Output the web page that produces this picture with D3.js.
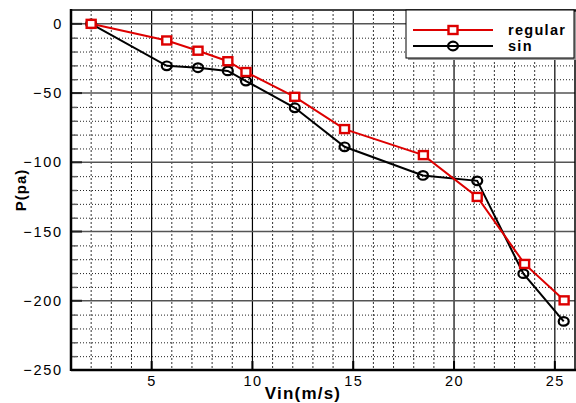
<!DOCTYPE html>
<html>
<head>
<meta charset="utf-8">
<script src="https://cdn.jsdelivr.net/npm/d3@7"></script>
<style>
  html, body { margin: 0; padding: 0; background: #fff; }
  svg { display: block; }
  text { font-family: "Liberation Sans", Arial, sans-serif; }
</style>
</head>
<body>
<svg id="chart" width="576" height="403"></svg>
<script>
// Inlet velocity (m/s) and pressure (Pa) for the two channel profiles
const vin = [2.0, 5.75, 7.3, 8.78, 9.68, 12.1, 14.57, 18.48, 21.15, 23.5, 25.46];
const vinSin = [2.0, 5.75, 7.3, 8.78, 9.68, 12.1, 14.57, 18.46, 21.15, 23.44, 25.44];
const regular = [0, -12, -19.4, -27, -34.8, -52.7, -76, -94.8, -125, -173.4, -199.7];
const sin = [0, -30.3, -31.7, -34, -41.3, -60.6, -88.8, -109.5, -113.4, -180.4, -214.9];
const xTicks = [5, 10, 15, 20, 25];
const yTicks = [0, -50, -100, -150, -200, -250];
const seriesNames = ["regular", "sin"];

const svg = d3.select("#chart");
const pLeft = 71, pRight = 575, pTop = 10, pBottom = 370;

const x = d3.scaleLinear().domain([1, 26]).range([pLeft, pRight]);
const y = d3.scaleLinear().domain([-250, 10]).range([pBottom, pTop]);

const minorX = d3.range(2, 26).filter(v => v % 5 !== 0);
const minorY = d3.range(-240, 10, 10).filter(v => v % 50 !== 0);

const grid = svg.append("g");

// minor grid (every 1 m/s and every 10 Pa), dotted
grid.append("g").selectAll("line").data(minorX)
  .join("line")
  .attr("x1", d => x(d)).attr("x2", d => x(d))
  .attr("y1", pTop).attr("y2", pBottom)
  .attr("stroke", "#333").attr("stroke-width", 1).attr("stroke-dasharray", "2,2");
grid.append("g").selectAll("line").data(minorY)
  .join("line")
  .attr("x1", pLeft).attr("x2", pRight)
  .attr("y1", d => y(d) + 0.5).attr("y2", d => y(d) + 0.5)
  .attr("stroke", "#222").attr("stroke-width", 1).attr("stroke-dasharray", "1,2");

// major grid
grid.append("g").selectAll("line").data(xTicks).join("line")
  .attr("x1", d => x(d)).attr("x2", d => x(d))
  .attr("y1", pTop).attr("y2", pBottom)
  .attr("stroke", "#000").attr("stroke-width", 1.2);
grid.append("g").selectAll("line").data(yTicks.filter(v => v > -250)).join("line")
  .attr("x1", pLeft).attr("x2", pRight)
  .attr("y1", d => y(d)).attr("y2", d => y(d))
  .attr("stroke", "#555").attr("stroke-width", 1.5);

// frame
svg.append("line").attr("x1", pLeft).attr("x2", 576).attr("y1", pTop).attr("y2", pTop)
  .attr("stroke", "#444").attr("stroke-width", 2);
svg.append("line").attr("x1", pRight).attr("x2", pRight).attr("y1", pTop).attr("y2", pBottom)
  .attr("stroke", "#000").attr("stroke-width", 1.5);

// axes: labels via d3 axes, ticks drawn inward below
const xAxis = d3.axisBottom(x).tickValues(xTicks).tickSize(0).tickPadding(6).tickFormat(d3.format("d"));
const gx = svg.append("g").attr("transform", `translate(0,${pBottom})`).call(xAxis);
gx.select(".domain").remove();
gx.selectAll("text").attr("font-size", 14.5).attr("letter-spacing", "1.5px").attr("fill", "#000")
  .attr("font-family", "Liberation Sans, Arial, sans-serif");

const yAxis = d3.axisLeft(y).tickValues(yTicks).tickSize(0).tickPadding(8).tickFormat(d3.format("d"));
const gy = svg.append("g").attr("transform", `translate(${pLeft},0)`).call(yAxis);
gy.select(".domain").remove();
gy.selectAll("text").attr("font-size", 14.5).attr("letter-spacing", "1.8px").attr("fill", "#000")
  .attr("font-family", "Liberation Sans, Arial, sans-serif");

// tick marks
svg.append("g").selectAll("line").data(xTicks).join("line")
  .attr("x1", d => x(d)).attr("x2", d => x(d))
  .attr("y1", pBottom).attr("y2", pBottom - 9)
  .attr("stroke", "#000").attr("stroke-width", 2);
svg.append("g").selectAll("line").data(yTicks).join("line")
  .attr("x1", pLeft).attr("x2", pLeft + 11)
  .attr("y1", d => y(d)).attr("y2", d => y(d))
  .attr("stroke", "#222").attr("stroke-width", 2);
svg.append("g").selectAll("line").data(minorY).join("line")
  .attr("x1", pLeft).attr("x2", pLeft + 6)
  .attr("y1", d => y(d) + 0.5).attr("y2", d => y(d) + 0.5)
  .attr("stroke", "#666").attr("stroke-width", 1.5);

// axis lines
svg.append("line").attr("x1", pLeft).attr("x2", pLeft).attr("y1", pTop - 1).attr("y2", pBottom + 1)
  .attr("stroke", "#000").attr("stroke-width", 2.5);
svg.append("line").attr("x1", pLeft).attr("x2", 576).attr("y1", pBottom).attr("y2", pBottom)
  .attr("stroke", "#000").attr("stroke-width", 2.5);

// axis titles
svg.append("text").attr("x", 303).attr("y", 399).attr("text-anchor", "middle")
  .attr("font-size", 17).attr("font-weight", "bold").attr("letter-spacing", "1.2px")
  .text("Vin(m/s)");
svg.append("text").attr("transform", "translate(26,190) rotate(-90)").attr("text-anchor", "middle")
  .attr("font-size", 15).attr("font-weight", "bold").attr("letter-spacing", "1px")
  .text("P(pa)");

// series
const red = "#dd0000";
const series = [
  { name: seriesNames[0], xs: vin, ys: regular, color: red, marker: "square" },
  { name: seriesNames[1], xs: vinSin, ys: sin, color: "#000", marker: "circle" }
];
const line = d3.line().x(d => x(d[0])).y(d => y(d[1]));

function drawMarker(g, kind, color) {
  if (kind === "square") {
    g.append("rect").attr("x", -4.5).attr("y", -4).attr("width", 9).attr("height", 8)
      .attr("fill", "#fff").attr("stroke", color).attr("stroke-width", 2.4);
  } else {
    g.append("ellipse").attr("rx", 5).attr("ry", 4.3)
      .attr("fill", "none").attr("stroke", color).attr("stroke-width", 2.2);
  }
}

// black series drawn first, red on top of it
[series[1], series[0]].forEach(s => {
  const pts = s.xs.map((v, i) => [v, s.ys[i]]);
  svg.append("path").datum(pts).attr("d", line)
    .attr("fill", "none").attr("stroke", s.color).attr("stroke-width", 2);
  pts.forEach(p => {
    const g = svg.append("g").attr("transform", `translate(${x(p[0])},${y(p[1])})`);
    drawMarker(g, s.marker, s.color);
  });
});

// legend
const lg = svg.append("g");
lg.append("rect").attr("x", 408).attr("y", 12).attr("width", 170).attr("height", 48).attr("fill", "#999");
lg.append("rect").attr("x", 406).attr("y", 10).attr("width", 168).attr("height", 48)
  .attr("fill", "#fff").attr("stroke", "#000").attr("stroke-width", 1);
series.forEach((s, i) => {
  const yy = 30 + i * 16;
  lg.append("line").attr("x1", 413).attr("x2", 493).attr("y1", yy).attr("y2", yy)
    .attr("stroke", s.color).attr("stroke-width", 2);
  const g = lg.append("g").attr("transform", `translate(453,${yy})`);
  drawMarker(g, s.marker, s.color);
  lg.append("text").attr("x", 508).attr("y", yy + 5)
    .attr("font-size", 14.5).attr("font-weight", "bold").attr("letter-spacing", "1.3px")
    .text(s.name);
});
</script>
</body>
</html>
